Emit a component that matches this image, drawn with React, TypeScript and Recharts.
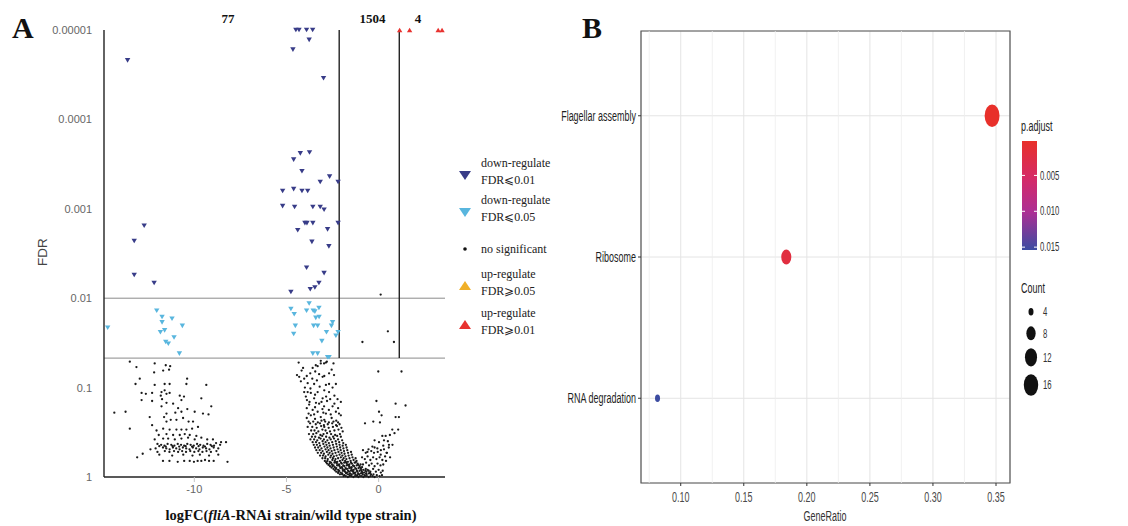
import React from "react";
import {
  CartesianGrid,
  ReferenceArea,
  ReferenceLine,
  Scatter,
  ScatterChart,
  XAxis,
  YAxis,
  ZAxis,
} from "recharts";

type Pair = [number, number];

// ---- panel A: volcano, [logFC, -log10(FDR)] ----
const DOWN_001: Pair[] = [
  [-4.49, 5.0], [-4.32, 5.0], [-3.91, 5.0], [-3.58, 5.0], [-3.77, 4.89], [-4.65, 4.78], [-2.99, 4.46], [-13.62, 4.66],
  [-4.25, 3.62], [-3.75, 3.63], [-4.61, 3.55], [-4.16, 3.42], [-2.66, 3.36], [-3.17, 3.3], [-2.2, 3.3],
  [-5.21, 3.2], [-4.61, 3.22], [-4.16, 3.2], [-3.85, 3.2],
  [-5.21, 3.03], [-4.56, 3.02], [-3.57, 3.02], [-3.17, 3.02], [-2.96, 2.99],
  [-4.0, 2.84], [-3.89, 2.84], [-3.57, 2.84], [-2.2, 2.84],
  [-4.39, 2.76], [-2.77, 2.77], [-3.62, 2.63], [-2.7, 2.58],
  [-3.91, 2.34], [-2.96, 2.28], [-3.24, 2.17], [-3.46, 2.12], [-3.71, 2.1], [-4.76, 2.07],
  [-12.72, 2.81], [-13.26, 2.64], [-13.26, 2.26], [-12.18, 2.17],
];

const DOWN_005: Pair[] = [
  [-3.77, 1.94], [-4.76, 1.88], [-3.91, 1.86], [-3.55, 1.86], [-3.46, 1.85], [-3.24, 1.89], [-4.58, 1.82],
  [-3.23, 1.79], [-3.41, 1.78], [-2.5, 1.73], [-3.53, 1.69], [-3.31, 1.69], [-4.52, 1.69], [-2.56, 1.69],
  [-2.2, 1.62], [-2.83, 1.62], [-4.61, 1.6], [-2.32, 1.58], [-3.08, 1.52], [-3.57, 1.38], [-3.31, 1.38],
  [-2.77, 1.34], [-2.69, 1.34],
  [-14.7, 1.67], [-12.04, 1.86], [-11.75, 1.79], [-11.75, 1.73], [-11.21, 1.77], [-10.65, 1.69], [-11.61, 1.64],
  [-11.84, 1.62], [-11.1, 1.56], [-11.55, 1.51], [-11.41, 1.49], [-10.81, 1.38],
];

const UP_005: Pair[] = [];
const UP_001: Pair[] = [[1.14, 5.0], [1.68, 5.0], [3.23, 5.0], [3.44, 5.0]];

const NO_SIG_LEFT: Pair[] = [
  [-13.5, 1.29], [-13.14, 1.23], [-12.15, 1.27], [-11.55, 1.25], [-11.31, 1.24], [-11.69, 1.19], [-12.18, 1.17],
  [-11.37, 1.2], [-12.96, 1.1], [-13.19, 1.04], [-12.15, 1.03], [-11.61, 1.04], [-11.34, 1.04], [-10.39, 1.1],
  [-10.43, 1.04], [-9.35, 1.03], [-12.86, 0.94], [-12.63, 0.93], [-12.29, 0.94], [-11.78, 0.95], [-11.61, 0.97],
  [-11.82, 0.91], [-11.51, 0.93], [-11.34, 0.94], [-10.79, 0.91], [-10.56, 0.9], [-12.86, 0.86], [-12.29, 0.85],
  [-11.75, 0.87], [-11.51, 0.83], [-11.15, 0.82], [-10.7, 0.86], [-9.62, 0.88], [-11.78, 0.79], [-10.88, 0.77],
  [-10.38, 0.76], [-9.08, 0.79], [-14.34, 0.72], [-13.73, 0.73], [-11.51, 0.71], [-11.03, 0.72], [-10.7, 0.73],
  [-9.98, 0.73], [-9.53, 0.71], [-9.23, 0.7], [-12.42, 0.67], [-11.64, 0.67], [-11.28, 0.64], [-10.97, 0.64],
  [-10.61, 0.66], [-11.51, 0.62], [-10.07, 0.62], [-10.31, 0.62], [-13.5, 0.54], [-12.29, 0.58], [-12.05, 0.52],
  [-11.69, 0.54], [-11.34, 0.53], [-10.97, 0.53], [-10.7, 0.53], [-10.43, 0.53], [-10.12, 0.54], [-9.8, 0.56],
  [-11.93, 0.47], [-11.51, 0.48], [-11.15, 0.47], [-10.79, 0.47], [-10.52, 0.48], [-10.25, 0.47], [-9.89, 0.46],
  [-12.15, 0.42], [-11.69, 0.43], [-11.42, 0.43], [-11.06, 0.42], [-10.7, 0.43], [-10.34, 0.44], [-9.98, 0.42],
  [-9.62, 0.44], [-9.3, 0.42], [-8.99, 0.42], [-8.28, 0.39], [-8.55, 0.39], [-8.82, 0.38],
  [-12.0, 0.37], [-11.8, 0.36], [-11.62, 0.35], [-11.45, 0.37], [-11.25, 0.36], [-11.08, 0.35], [-10.9, 0.37],
  [-10.72, 0.36], [-10.55, 0.35], [-10.38, 0.37], [-10.2, 0.36], [-10.03, 0.35], [-9.85, 0.37], [-9.68, 0.36],
  [-9.5, 0.35], [-9.3, 0.37], [-9.12, 0.36], [-8.93, 0.35], [-8.6, 0.36],
  [-11.9, 0.345], [-11.55, 0.34], [-11.18, 0.345], [-10.82, 0.34], [-10.47, 0.345], [-10.12, 0.34], [-9.77, 0.345],
  [-9.42, 0.34], [-9.05, 0.345],
  [-12.1, 0.32], [-11.7, 0.33], [-11.52, 0.32], [-11.34, 0.31], [-11.16, 0.33], [-10.98, 0.32], [-10.8, 0.31],
  [-10.62, 0.33], [-10.44, 0.32], [-10.26, 0.31], [-10.08, 0.33], [-9.9, 0.32], [-9.72, 0.31], [-9.54, 0.33],
  [-9.36, 0.32], [-9.18, 0.31], [-8.95, 0.33], [-8.7, 0.32], [-12.38, 0.31],
  [-11.6, 0.29], [-11.35, 0.28], [-11.1, 0.29], [-10.88, 0.28], [-10.66, 0.29], [-10.45, 0.28], [-10.22, 0.29],
  [-10.0, 0.28], [-9.78, 0.29], [-9.56, 0.28], [-9.34, 0.29], [-9.1, 0.28], [-8.8, 0.29], [-12.0, 0.28],
  [-12.8, 0.26], [-11.9, 0.25], [-11.2, 0.24], [-10.6, 0.25], [-10.1, 0.24], [-9.7, 0.25], [-9.2, 0.24],
  [-8.7, 0.25], [-13.1, 0.22],
  [-11.7, 0.18], [-11.35, 0.18], [-10.9, 0.17], [-10.55, 0.18], [-10.25, 0.18], [-10.02, 0.17], [-9.82, 0.18],
  [-9.62, 0.18], [-9.42, 0.19], [-9.2, 0.18], [-8.95, 0.18], [-8.2, 0.17],
];

const NO_SIG_CENTER: Pair[] = [
  [0.11, 2.04], [-0.88, 1.51], [0.5, 1.63], [0.83, 1.51],
  [-4.34, 1.28], [-3.41, 1.25], [-3.14, 1.3], [-2.86, 1.28], [-3.14, 1.27], [-2.96, 1.27], [-2.81, 1.29],
  [-3.31, 1.24], [-3.58, 1.22], [-4.1, 1.22], [-2.55, 1.2], [-2.45, 1.27],
  [-4.18, 1.19], [-4.43, 1.14], [-4.31, 1.12], [-3.71, 1.16], [-3.44, 1.18], [-3.23, 1.15], [-2.69, 1.16],
  [-2.42, 1.14], [-4.04, 1.1], [-3.04, 1.12], [-3.9, 1.13], [-3.6, 1.1], [-3.35, 1.08], [-2.95, 1.13],
  [-3.85, 1.05], [-3.5, 1.04], [-2.86, 1.03], [-2.69, 1.04], [-2.32, 1.04], [-4.22, 1.07],
  [-4.0, 1.0], [-3.7, 0.99], [-3.2, 1.01], [-2.95, 0.97], [-2.5, 1.0],
  [-4.04, 0.95], [-3.68, 0.94], [-3.31, 0.95], [-2.69, 0.95], [-3.85, 0.95], [-3.45, 0.92], [-2.85, 0.9], [-2.4, 0.91],
  [-3.95, 0.9], [-3.89, 0.86], [-3.5, 0.88], [-3.04, 0.88], [-2.63, 0.87], [-2.23, 0.87], [-2.05, 0.84],
  [-3.75, 0.84], [-3.4, 0.83], [-3.1, 0.84], [-2.8, 0.85], [-2.4, 0.82],
  [-3.77, 0.81], [-3.23, 0.82], [-2.96, 0.79], [-2.5, 0.79], [-3.9, 0.77], [-3.45, 0.78], [-3.05, 0.76],
  [-2.7, 0.75], [-2.2, 0.77], [-3.58, 0.75], [-3.31, 0.73], [-2.86, 0.71], [-2.32, 0.73], [-2.05, 0.69],
  [-3.68, 0.69], [-3.14, 0.67], [-3.8, 0.71], [-3.5, 0.7], [-3.0, 0.72], [-2.6, 0.7], [-2.15, 0.71],
  [-3.9, 0.66], [-3.45, 0.65], [-2.95, 0.64], [-2.55, 0.66], [-2.3, 0.63],
  [-3.8, 0.62], [-3.55, 0.62], [-3.3, 0.61], [-3.1, 0.63], [-2.9, 0.62], [-2.7, 0.61], [-2.45, 0.62], [-2.2, 0.61],
  [-3.72, 0.6], [-3.41, 0.59], [-3.18, 0.6], [-2.97, 0.58], [-2.76, 0.59], [-2.52, 0.6], [-2.31, 0.58], [-2.12, 0.59],
  [-3.85, 0.56], [-3.6, 0.56], [-3.36, 0.55], [-3.12, 0.57], [-2.95, 0.56], [-2.71, 0.55], [-2.48, 0.56],
  [-2.26, 0.57], [-2.02, 0.55],
  [-3.66, 0.52], [-3.48, 0.52], [-3.27, 0.51], [-3.05, 0.53], [-2.88, 0.52], [-2.64, 0.51], [-2.4, 0.52],
  [-2.18, 0.53], [-1.95, 0.51],
  [-3.78, 0.48], [-3.55, 0.48], [-3.38, 0.49], [-3.16, 0.47], [-2.99, 0.48], [-2.8, 0.49], [-2.58, 0.48],
  [-2.36, 0.47], [-2.1, 0.48],
  [-3.62, 0.45], [-3.44, 0.45], [-3.24, 0.44], [-3.06, 0.46], [-2.85, 0.45], [-2.67, 0.44], [-2.47, 0.45],
  [-2.25, 0.46], [-2.05, 0.45],
  [-3.7, 0.42], [-3.5, 0.42], [-3.33, 0.41], [-3.15, 0.43], [-2.97, 0.42], [-2.78, 0.41], [-2.6, 0.42],
  [-2.42, 0.43], [-2.2, 0.42], [-1.98, 0.41],
  [-3.58, 0.39], [-3.4, 0.39], [-3.22, 0.38], [-3.04, 0.4], [-2.88, 0.39], [-2.7, 0.38], [-2.52, 0.39],
  [-2.33, 0.4], [-2.14, 0.39], [-1.92, 0.38],
  [-3.52, 0.36], [-3.35, 0.36], [-3.18, 0.35], [-3.0, 0.37], [-2.83, 0.36], [-2.66, 0.35], [-2.48, 0.36],
  [-2.3, 0.37], [-2.12, 0.36], [-1.95, 0.35], [-1.78, 0.36],
  [-3.45, 0.33], [-3.28, 0.33], [-3.1, 0.32], [-2.94, 0.34], [-2.78, 0.33], [-2.61, 0.32], [-2.44, 0.33],
  [-2.27, 0.34], [-2.09, 0.33], [-1.91, 0.32], [-1.74, 0.33],
  [-3.38, 0.3], [-3.2, 0.3], [-3.04, 0.29], [-2.88, 0.31], [-2.72, 0.3], [-2.55, 0.29], [-2.4, 0.3],
  [-2.23, 0.31], [-2.06, 0.3], [-1.88, 0.29], [-1.7, 0.3],
  [-3.3, 0.27], [-3.12, 0.27], [-2.97, 0.26], [-2.81, 0.28], [-2.66, 0.27], [-2.5, 0.26], [-2.34, 0.27],
  [-2.18, 0.28], [-2.01, 0.27], [-1.85, 0.26], [-1.66, 0.27], [-1.5, 0.28],
  [-3.18, 0.24], [-3.02, 0.24], [-2.88, 0.23], [-2.73, 0.25], [-2.58, 0.24], [-2.43, 0.23], [-2.28, 0.24],
  [-2.12, 0.25], [-1.97, 0.24], [-1.8, 0.23], [-1.63, 0.24], [-1.46, 0.25],
  [-3.05, 0.21], [-2.9, 0.21], [-2.76, 0.2], [-2.62, 0.22], [-2.48, 0.21], [-2.34, 0.2], [-2.2, 0.21],
  [-2.05, 0.22], [-1.9, 0.21], [-1.75, 0.2], [-1.58, 0.21], [-1.42, 0.22], [-1.25, 0.21],
  [-2.92, 0.18], [-2.78, 0.18], [-2.65, 0.17], [-2.51, 0.19], [-2.38, 0.18], [-2.24, 0.17], [-2.1, 0.18],
  [-1.96, 0.19], [-1.82, 0.18], [-1.67, 0.17], [-1.52, 0.18], [-1.36, 0.19], [-1.2, 0.18],
  [-2.85, 0.165], [-2.58, 0.16], [-2.31, 0.165], [-2.04, 0.16], [-1.77, 0.165], [-1.5, 0.16], [-1.24, 0.165],
  [-2.8, 0.15], [-2.66, 0.15], [-2.53, 0.14], [-2.4, 0.16], [-2.27, 0.15], [-2.14, 0.14], [-2.0, 0.15],
  [-1.87, 0.16], [-1.73, 0.15], [-1.59, 0.14], [-1.45, 0.15], [-1.3, 0.16], [-1.14, 0.15], [-0.98, 0.14],
  [-2.72, 0.135], [-2.45, 0.13], [-2.18, 0.135], [-1.92, 0.13], [-1.66, 0.135], [-1.39, 0.13], [-1.11, 0.135],
  [-2.64, 0.12], [-2.5, 0.12], [-2.38, 0.11], [-2.25, 0.13], [-2.12, 0.12], [-1.99, 0.11], [-1.86, 0.12],
  [-1.73, 0.13], [-1.6, 0.12], [-1.46, 0.11], [-1.33, 0.12], [-1.19, 0.13], [-1.04, 0.12], [-0.9, 0.11],
  [-2.56, 0.105], [-2.3, 0.1], [-2.04, 0.105], [-1.79, 0.1], [-1.53, 0.105], [-1.27, 0.1], [-1.0, 0.105],
  [-2.45, 0.09], [-2.32, 0.09], [-2.2, 0.08], [-2.08, 0.1], [-1.96, 0.09], [-1.84, 0.08], [-1.72, 0.09],
  [-1.6, 0.1], [-1.48, 0.09], [-1.35, 0.08], [-1.22, 0.09], [-1.09, 0.1], [-0.96, 0.09], [-0.83, 0.08], [-0.7, 0.09],
  [-2.38, 0.075], [-2.14, 0.07], [-1.9, 0.075], [-1.66, 0.07], [-1.42, 0.075], [-1.18, 0.07], [-0.94, 0.075],
  [-0.72, 0.07],
  [-2.3, 0.06], [-2.18, 0.06], [-2.06, 0.05], [-1.94, 0.07], [-1.83, 0.06], [-1.72, 0.05], [-1.61, 0.06],
  [-1.5, 0.07], [-1.39, 0.06], [-1.27, 0.05], [-1.15, 0.06], [-1.03, 0.07], [-0.91, 0.06], [-0.79, 0.05],
  [-0.66, 0.06], [-0.54, 0.07],
  [-2.2, 0.045], [-1.98, 0.04], [-1.77, 0.045], [-1.55, 0.04], [-1.33, 0.045], [-1.11, 0.04], [-0.89, 0.045],
  [-0.68, 0.04], [-0.47, 0.045],
  [-2.1, 0.03], [-1.98, 0.03], [-1.87, 0.02], [-1.76, 0.04], [-1.66, 0.03], [-1.56, 0.02], [-1.46, 0.03],
  [-1.36, 0.04], [-1.26, 0.03], [-1.16, 0.02], [-1.06, 0.03], [-0.96, 0.04], [-0.86, 0.03], [-0.76, 0.02],
  [-0.65, 0.03], [-0.53, 0.04], [-0.41, 0.03],
  [-1.9, 0.01], [-1.78, 0.01], [-1.67, 0.0], [-1.57, 0.01], [-1.47, 0.01], [-1.37, 0.0], [-1.28, 0.01],
  [-1.19, 0.01], [-1.1, 0.0], [-1.01, 0.01], [-0.92, 0.01], [-0.83, 0.0], [-0.74, 0.01], [-0.64, 0.01],
  [-0.54, 0.0], [-0.44, 0.01], [-0.33, 0.01], [-0.22, 0.0],
  // right arm
  [-0.85, 0.3], [-0.7, 0.27], [-0.55, 0.31], [-0.4, 0.29], [-0.22, 0.33], [-0.05, 0.28], [0.12, 0.3], [0.25, 0.35],
  [-0.9, 0.22], [-0.75, 0.2], [-0.6, 0.23], [-0.45, 0.19], [-0.3, 0.22], [-0.12, 0.2], [0.05, 0.22], [0.2, 0.19],
  [0.35, 0.23], [-0.85, 0.14], [-0.68, 0.16], [-0.52, 0.13], [-0.38, 0.15], [-0.22, 0.12], [-0.06, 0.15],
  [0.1, 0.13], [0.25, 0.14], [-0.6, 0.08], [-0.45, 0.06], [-0.3, 0.09], [-0.15, 0.06], [0.0, 0.08], [0.12, 0.05],
  [0.22, 0.07], [-0.1, 0.02], [0.05, 0.01], [0.18, 0.02], [-0.28, 0.03], [0.45, 0.27], [0.55, 0.33], [0.62, 0.22],
  [0.5, 0.4], [0.75, 0.36], [0.4, 0.18],
  [-0.02, 1.18], [1.24, 1.18], [-0.12, 0.85], [0.92, 0.82], [1.46, 0.8], [0.02, 0.73], [0.16, 0.69],
  [-0.74, 0.6], [-0.29, 0.62], [0.07, 0.61], [0.92, 0.67], [1.1, 0.67], [0.74, 0.53], [1.06, 0.53],
  [0.2, 0.46], [0.38, 0.46], [0.61, 0.47], [0.86, 0.49], [-0.22, 0.41], [0.02, 0.39], [0.29, 0.41], [0.56, 0.36],
  [-0.34, 0.34], [-0.07, 0.32], [0.29, 0.31], [-0.61, 0.28], [-0.25, 0.27], [0.11, 0.25], [0.43, 0.27],
];

const FDR_TICKS = [0, 1, 2, 3, 4, 5];
const FDR_LABELS = ["1", "0.1", "0.01", "0.001", "0.0001", "0.00001"];
const LOGFC_TICKS = [-10, -5, 0];
const FDR_CUTS = [2, 1.33];
const LOGFC_CUTS = [-2.14, 1.12];
const GROUP_SIZES = ["77", "1504", "4"];

// ---- panel B: KEGG dot plot ----
const PATHWAYS = ["RNA degradation", "Ribosome", "Flagellar assembly"];
const GENE_RATIO = [0.0816, 0.1837, 0.3469];
const COUNTS = [4, 9, 17];
const P_ADJUST = [0.0154, 0.0021, 0.00004];
const RATIO_TICKS = [0.1, 0.15, 0.2, 0.25, 0.3, 0.35];
const RATIO_MINOR = [0.075, 0.125, 0.175, 0.225, 0.275, 0.325];
const PADJ_TICKS = [0.005, 0.01, 0.015];
const COUNT_BREAKS = [4, 8, 12, 16];

const NAVY = "#383c88";
const SKY = "#59b6de";
const RED = "#e8322f";
const ORANGE = "#f0b028";
const SANS = "'Liberation Sans', Arial, sans-serif";
const SERIF = "'Liberation Serif', 'Times New Roman', serif";
const SQUASH = 0.62; // panel B text is horizontally squeezed in the source figure

const COLOR_STOPS: [number, string][] = [
  [0, "#e8302a"],
  [0.35, "#d42a68"],
  [0.65, "#ad2f94"],
  [1, "#3c4ca1"],
];
const P_MIN = 0.0002;
const P_MAX = 0.0154;

const hex = (c: string) => [1, 3, 5].map((i) => parseInt(c.slice(i, i + 2), 16));
function colorFor(p: number) {
  const t = Math.min(1, Math.max(0, (p - P_MIN) / (P_MAX - P_MIN)));
  for (let i = 1; i < COLOR_STOPS.length; i++) {
    const [t1, c1] = COLOR_STOPS[i];
    const [t0, c0] = COLOR_STOPS[i - 1];
    if (t <= t1) {
      const f = (t - t0) / (t1 - t0);
      const a = hex(c0);
      const b = hex(c1);
      return `rgb(${a.map((v, k) => Math.round(v + (b[k] - v) * f)).join(",")})`;
    }
  }
  return COLOR_STOPS[COLOR_STOPS.length - 1][1];
}

const sizeFor = (count: number) => 11.97 * count - 28.3;

const toPts = (a: Pair[]) => a.map(([logFC, nlf]) => ({ logFC, nlf }));

const tri = (color: string, down: boolean, s = 2.7) => (p: any) => {
  const { cx, cy } = p;
  const h = s * 0.85;
  const pts = down
    ? `${cx - s},${cy - h} ${cx + s},${cy - h} ${cx},${cy + h}`
    : `${cx - s},${cy + h} ${cx + s},${cy + h} ${cx},${cy - h}`;
  return <polygon points={pts} fill={color} />;
};

const dot = (p: any) => <circle cx={p.cx} cy={p.cy} r={1.15} fill="#1a1a1a" />;

const bubble = (p: any) => {
  const r = p.width / 2;
  return <ellipse cx={p.cx} cy={p.cy} rx={r} ry={r * 1.5} fill={colorFor(p.payload.pAdjust)} />;
};

const FdrTick = (p: any) => (
  <text x={p.x} y={p.y} dy={4} textAnchor="end" fill="#666666" fontSize={11} fontFamily={SANS}>
    {FDR_LABELS[FDR_TICKS.indexOf(p.payload.value)]}
  </text>
);

const FcTick = (p: any) => (
  <text x={p.x} y={p.y} dy={9} textAnchor="middle" fill="#666666" fontSize={11} fontFamily={SANS}>
    {p.payload.value}
  </text>
);

const PathTick = (p: any) => (
  <text
    transform={`translate(${p.x},${p.y}) scale(${SQUASH},1)`}
    dy={5}
    textAnchor="end"
    fill="#1e1e1e"
    fontSize={14.5}
    fontFamily={SANS}
  >
    {PATHWAYS[p.payload.value - 1]}
  </text>
);

const RatioTick = (p: any) => (
  <text
    transform={`translate(${p.x},${p.y}) scale(${SQUASH},1)`}
    dy={14}
    textAnchor="middle"
    fill="#4a4a4a"
    fontSize={14.5}
    fontFamily={SANS}
  >
    {p.payload.value.toFixed(2)}
  </text>
);

function Volcano() {
  return (
    <ScatterChart width={460} height={526} margin={{ top: 30, right: 15, bottom: 19, left: 44 }}>
      <XAxis
        type="number"
        dataKey="logFC"
        domain={[-14.9, 3.6]}
        ticks={LOGFC_TICKS}
        height={30}
        axisLine={{ stroke: "#222", strokeWidth: 1.4 }}
        tickLine={{ stroke: "#c4c4c4" }}
        tickSize={5}
        tick={<FcTick />}
      />
      <YAxis
        type="number"
        dataKey="nlf"
        domain={[0, 5]}
        ticks={FDR_TICKS}
        width={60}
        axisLine={{ stroke: "#222", strokeWidth: 1.4 }}
        tickLine={false}
        tickMargin={6}
        tick={<FdrTick />}
      />
      {FDR_CUTS.map((v) => (
        <ReferenceLine key={`h${v}`} y={v} stroke="#8a8a8a" strokeWidth={1} />
      ))}
      {LOGFC_CUTS.map((v) => (
        <ReferenceLine
          key={`v${v}`}
          segment={[{ x: v, y: FDR_CUTS[1] }, { x: v, y: 5 }]}
          stroke="#222"
          strokeWidth={1.4}
        />
      ))}
      <Scatter data={toPts([...NO_SIG_LEFT, ...NO_SIG_CENTER])} shape={dot} isAnimationActive={false} />
      <Scatter data={toPts(DOWN_005)} shape={tri(SKY, true)} isAnimationActive={false} />
      <Scatter data={toPts(DOWN_001)} shape={tri(NAVY, true)} isAnimationActive={false} />
      <Scatter data={toPts(UP_005)} shape={tri(ORANGE, false)} isAnimationActive={false} />
      <Scatter data={toPts(UP_001)} shape={tri(RED, false)} isAnimationActive={false} />
    </ScatterChart>
  );
}

const dotData = PATHWAYS.map((name, i) => ({
  name,
  pos: i + 1,
  ratio: GENE_RATIO[i],
  count: COUNTS[i],
  pAdjust: P_ADJUST[i],
}));

function DotPlot() {
  const xDom: [number, number] = [0.0685, 0.3611];
  return (
    <ScatterChart width={588} height={526} margin={{ top: 31, right: 118, bottom: 18, left: 1 }}>
      <CartesianGrid stroke="#e4e4e4" strokeWidth={1} />
      {RATIO_MINOR.map((v) => (
        <ReferenceLine key={v} x={v} stroke="#ededed" strokeWidth={0.8} />
      ))}
      <XAxis
        type="number"
        dataKey="ratio"
        domain={xDom}
        ticks={RATIO_TICKS}
        height={25}
        axisLine={false}
        tickLine={{ stroke: "#333" }}
        tickSize={3}
        tick={<RatioTick />}
      />
      <YAxis
        type="number"
        dataKey="pos"
        domain={[0.4, 3.6]}
        ticks={[1, 2, 3]}
        width={100}
        axisLine={false}
        tickLine={{ stroke: "#333" }}
        tickSize={3}
        tickMargin={2}
        tick={<PathTick />}
      />
      <ZAxis type="number" dataKey="count" domain={[4, 17]} range={[sizeFor(4), sizeFor(17)]} />
      <ReferenceArea x1={xDom[0]} x2={xDom[1]} y1={0.4} y2={3.6} fill="none" fillOpacity={0} stroke="#555" strokeWidth={1.2} />
      <Scatter data={dotData} shape={bubble} isAnimationActive={false} />
    </ScatterChart>
  );
}

function Annotations() {
  const barTop = 141;
  const barH = 109;
  const barY = (v: number) => barTop + ((v - P_MIN) / (P_MAX - P_MIN)) * barH;
  const countY = [311.7, 333.3, 357.3, 385];
  const legendRows = [
    { shape: "down", color: NAVY, lines: ["down-regulate", "FDR\u2A7D0.01"], cy: 175 },
    { shape: "down", color: SKY, lines: ["down-regulate", "FDR\u2A7D0.05"], cy: 212 },
    { shape: "dot", color: "#111", lines: ["no significant"], cy: 249 },
    { shape: "up", color: ORANGE, lines: ["up-regulate", "FDR\u2A7E0.05"], cy: 286 },
    { shape: "up", color: RED, lines: ["up-regulate", "FDR\u2A7E0.01"], cy: 325 },
  ];
  return (
    <svg width={1128} height={526} style={{ position: "absolute", left: 0, top: 0 }}>
      <defs>
        <linearGradient id="padj" x1="0" y1="0" x2="0" y2="1">
          {COLOR_STOPS.map(([o, c]) => (
            <stop key={o} offset={o} stopColor={c} />
          ))}
        </linearGradient>
      </defs>
      <text x={12} y={38} fontFamily={SERIF} fontWeight="bold" fontSize={30} fill="#111">A</text>
      <text x={582} y={38} fontFamily={SERIF} fontWeight="bold" fontSize={30} fill="#111">B</text>

      {GROUP_SIZES.map((t, i) => (
        <text key={t} x={[228, 372.5, 418][i]} y={23} textAnchor="middle" fontFamily={SERIF} fontWeight="bold" fontSize={13} fill="#111">
          {t}
        </text>
      ))}

      <text transform="translate(47,252) rotate(-90)" textAnchor="middle" fontFamily={SANS} fontSize={13.5} fill="#444">FDR</text>

      <text x={291} y={520} textAnchor="middle" fontFamily={SERIF} fontWeight="bold" fontSize={14.5} fill="#111">
        logFC(<tspan fontStyle="italic">fliA</tspan>-RNAi strain/wild type strain)
      </text>

      {legendRows.map((r, i) => (
        <g key={i}>
          {r.shape === "dot" ? (
            <circle cx={465} cy={r.cy} r={1.8} fill={r.color} />
          ) : r.shape === "down" ? (
            <polygon points={`${459},${r.cy - 4} ${471},${r.cy - 4} ${465},${r.cy + 5}`} fill={r.color} />
          ) : (
            <polygon points={`${459},${r.cy + 4} ${471},${r.cy + 4} ${465},${r.cy - 5}`} fill={r.color} />
          )}
          {r.lines.map((l, k) => (
            <text
              key={k}
              x={481}
              y={r.cy + (r.lines.length === 1 ? 4 : k === 0 ? -8 : 9)}
              fontFamily={SERIF}
              fontSize={12}
              fill="#222"
            >
              {l}
            </text>
          ))}
        </g>
      ))}

      <text transform={`translate(825,521) scale(${SQUASH},1)`} textAnchor="middle" fontFamily={SANS} fontSize={14.5} fill="#333">GeneRatio</text>

      <text transform={`translate(1021,131) scale(${SQUASH},1)`} fontFamily={SANS} fontSize={14.5} fill="#222">p.adjust</text>
      <rect x={1022} y={barTop} width={15} height={barH} fill="url(#padj)" />
      {PADJ_TICKS.map((v) => (
        <g key={v}>
          <line x1={1022} x2={1025} y1={barY(v)} y2={barY(v)} stroke="#fff" strokeWidth={1} />
          <line x1={1034} x2={1037} y1={barY(v)} y2={barY(v)} stroke="#fff" strokeWidth={1} />
          <text transform={`translate(1040,${barY(v) + 4.2}) scale(${SQUASH},1)`} fontFamily={SANS} fontSize={12.5} fill="#333">
            {v.toFixed(3)}
          </text>
        </g>
      ))}

      <text transform={`translate(1021,293) scale(${SQUASH},1)`} fontFamily={SANS} fontSize={14.5} fill="#222">Count</text>
      {COUNT_BREAKS.map((c, i) => {
        const r = Math.sqrt(sizeFor(c) / Math.PI);
        return (
          <g key={c}>
            <ellipse cx={1031} cy={countY[i]} rx={r} ry={r * 1.5} fill="#111" />
            <text transform={`translate(1043,${countY[i] + 4.2}) scale(${SQUASH},1)`} fontFamily={SANS} fontSize={12.5} fill="#333">
              {c}
            </text>
          </g>
        );
      })}
    </svg>
  );
}

export default function App() {
  return (
    <div style={{ position: "absolute", left: 0, top: 0, width: 1128, height: 526, background: "#fff", overflow: "hidden" }}>
      <div style={{ position: "absolute", left: 0, top: 0 }}>
        <Volcano />
      </div>
      <div style={{ position: "absolute", left: 540, top: 0 }}>
        <DotPlot />
      </div>
      <Annotations />
    </div>
  );
}
